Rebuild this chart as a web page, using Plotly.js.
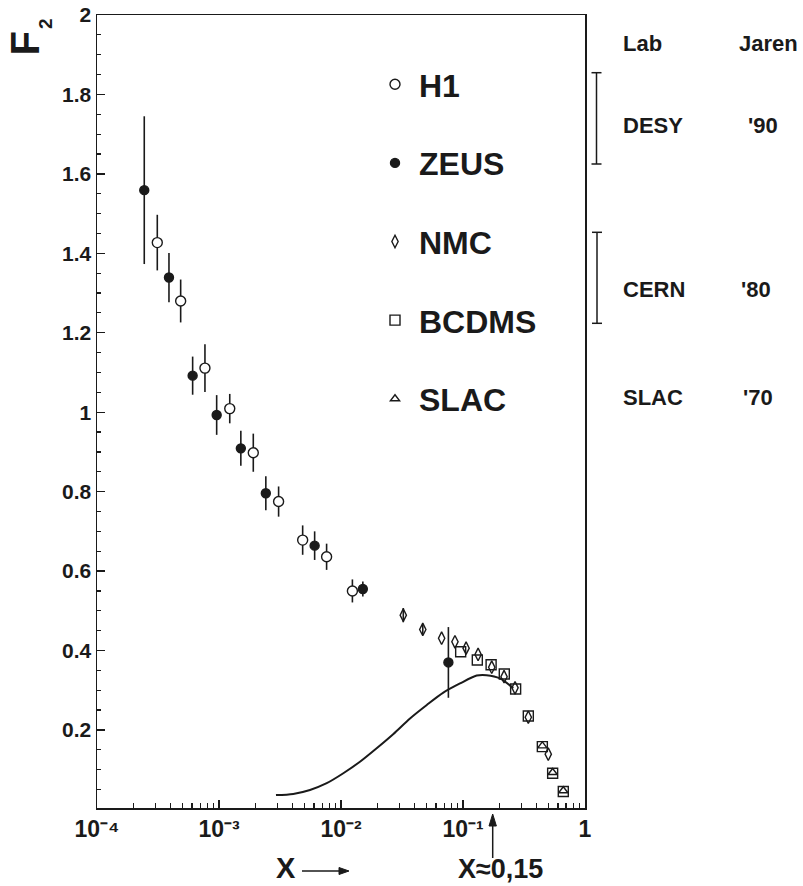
<!DOCTYPE html>
<html>
<head>
<meta charset="utf-8">
<script src="https://cdn.plot.ly/plotly-3.0.1.min.js"></script>
<style>html,body{margin:0;padding:0;background:#fff;}#chart{width:803px;height:886px;}</style>
</head>
<body>
<div id="chart"></div>
<script>
// ---- data ----
const h1X   = [3.12e-4, 4.85e-4, 7.67e-4, 1.225e-3, 1.91e-3, 3.08e-3, 4.85e-3, 7.62e-3, 1.24e-2];
const h1Y   = [1.427, 1.280, 1.111, 1.009, 0.898, 0.775, 0.678, 0.636, 0.550];
const h1Err = [0.070, 0.054, 0.060, 0.037, 0.048, 0.038, 0.037, 0.033, 0.029];

const zeusX   = [2.44e-4, 3.89e-4, 6.08e-4, 9.57e-4, 1.51e-3, 2.42e-3, 6.08e-3, 1.51e-2, 7.59e-2];
const zeusY   = [1.559, 1.339, 1.092, 0.993, 0.909, 0.796, 0.664, 0.555, 0.370];
const zeusErr = [0.186, 0.062, 0.048, 0.050, 0.044, 0.043, 0.036, 0.019, 0.089];

const nmcX   = [3.24e-2, 4.68e-2, 6.68e-2, 8.59e-2, 0.106, 0.133, 0.172, 0.217, 0.267, 0.343, 0.500];
const nmcY   = [0.489, 0.453, 0.431, 0.422, 0.406, 0.390, 0.358, 0.334, 0.306, 0.232, 0.139];
const nmcErr = [0.018, 0.014, 0, 0, 0, 0, 0, 0, 0, 0, 0];

const bcdmsX = [0.0957, 0.131, 0.170, 0.218, 0.270, 0.343, 0.447, 0.543, 0.664];
const bcdmsY = [0.397, 0.376, 0.364, 0.341, 0.303, 0.235, 0.158, 0.091, 0.045];

const slacX = [0.447, 0.543, 0.664];
const slacY = [0.160, 0.093, 0.047];

const curveX = [2.93e-3, 4.06e-3, 5.57e-3, 7.64e-3, 1.045e-2, 1.43e-2, 1.96e-2, 2.69e-2, 3.68e-2, 5.05e-2, 6.90e-2, 9.45e-2, 0.1295, 0.156, 0.201, 0.258];
const curveY = [0.036, 0.039, 0.049, 0.066, 0.091, 0.120, 0.154, 0.190, 0.229, 0.263, 0.294, 0.317, 0.337, 0.338, 0.330, 0.305];

const xTickVals = [1e-4, 1e-3, 1e-2, 1e-1, 1];
const xTickText = ['10\u207B\u2074', '10\u207B\u00B3', '10\u207B\u00B2', '10\u207B\u00B9', '1'];
const yTickVals = [0.2, 0.4, 0.6, 0.8, 1, 1.2, 1.4, 1.6, 1.8, 2];

const seriesNames = ['H1', 'ZEUS', 'NMC', 'BCDMS', 'SLAC'];
const labNames  = ['DESY', 'CERN', 'SLAC'];
const labYears  = ["'90", "'80", "'70"];

// ---- layout helpers ----
const W = 803, H = 886;
const L = 97, R = 585, T = 15, B = 808;
const px = p => (p - L) / (R - L);
const py = p => (B - p) / (B - T);
const FONT = 'Liberation Sans, Arial, sans-serif';
const INK = '#1a1a1a';

const minorX = [];
for (let e = -4; e < 0; e++) for (let m = 2; m <= 9; m++) minorX.push(m * Math.pow(10, e));

const errStyle = arr => ({type: 'data', array: arr, visible: true, width: 0, thickness: 1.6, color: INK});
const mk = (sym, size, fill) => ({symbol: sym, size: size, color: fill, line: {color: INK, width: 1.4}});

const traces = [
  {x: h1X, y: h1Y, name: seriesNames[0], mode: 'markers', legendgroup: 'a',
   error_y: errStyle(h1Err), marker: mk('circle', 10, '#fff')},
  {x: zeusX, y: zeusY, name: seriesNames[1], mode: 'markers', legendgroup: 'b',
   error_y: errStyle(zeusErr), marker: mk('circle', 9, INK)},
  {x: nmcX, y: nmcY, name: seriesNames[2], mode: 'markers', legendgroup: 'c',
   error_y: errStyle(nmcErr), marker: mk('diamond-tall-open', 9, INK)},
  {x: bcdmsX, y: bcdmsY, name: seriesNames[3], mode: 'markers', legendgroup: 'd',
   marker: mk('square-open', 10, INK)},
  {x: slacX, y: slacY, name: seriesNames[4], mode: 'markers', legendgroup: 'e',
   marker: mk('triangle-up-open', 8, INK)},
  {x: curveX, y: curveY, mode: 'lines', showlegend: false,
   line: {color: INK, width: 2, shape: 'spline', smoothing: 0.8}}
];

const annotations = [
  {text: 'F', x: px(24), y: py(43.5), textangle: -90, font: {size: 40}},
  {text: '2', x: px(46), y: py(24), textangle: -90, font: {size: 19}},
  {text: 'X', x: px(286), y: py(868), font: {size: 29}},
  {text: 'X\u22480,15', x: px(500.5), y: py(869), font: {size: 27}},
  {text: 'Lab', x: px(621), y: py(43), xanchor: 'left', font: {size: 22}},
  {text: 'Jaren', x: px(737), y: py(43), xanchor: 'left', font: {size: 22}}
];
const labRowY = [125, 289, 398];
const yearX = [746, 739, 741];
labNames.forEach((n, i) => {
  annotations.push({text: n, x: px(621), y: py(labRowY[i]), xanchor: 'left', font: {size: 22}});
  annotations.push({text: labYears[i], x: px(yearX[i]), y: py(labRowY[i]), xanchor: 'left', font: {size: 22}});
});
annotations.forEach(a => {
  a.xref = 'paper'; a.yref = 'paper'; a.showarrow = false;
  if (!a.xanchor) a.xanchor = 'center';
  a.yanchor = 'middle';
  a.font = Object.assign({family: FONT, color: INK, weight: 'bold'}, a.font);
});

const lineShape = (x0, y0, x1, y1) => ({type: 'line', xref: 'paper', yref: 'paper',
  x0: px(x0), y0: py(y0), x1: px(x1), y1: py(y1), line: {color: INK, width: 1.5}});
const bracket = (x, top, bot) => [
  lineShape(x, top, x, bot), lineShape(x - 5, top, x + 5, top), lineShape(x - 5, bot, x + 5, bot)];
const tri = pts => ({type: 'path', xref: 'paper', yref: 'paper', fillcolor: INK, line: {color: INK, width: 1},
  path: 'M' + pts.map(p => px(p[0]) + ',' + py(p[1])).join(' L') + ' Z'});

const shapes = [
  ...bracket(596.5, 72.7, 164),
  ...bracket(597, 232.3, 323.3),
  lineShape(302, 871, 341, 871),
  tri([[349, 871], [339, 867.5], [339, 874.5]]),
  lineShape(492.7, 858, 492.7, 824),
  tri([[492.7, 814], [489, 826], [496.4, 826]])
];

const axisCommon = {
  showline: true, mirror: true, linecolor: INK, linewidth: 1.5,
  ticks: 'inside', ticklen: 8, tickwidth: 1.4, tickcolor: INK,
  showgrid: false, zeroline: false
};

const layout = {
  width: W, height: H,
  margin: {l: L, r: W - R, t: T, b: H - B, pad: 0},
  paper_bgcolor: '#fff', plot_bgcolor: '#fff',
  showlegend: true,
  legend: {x: px(371), y: py(57), xanchor: 'left', yanchor: 'top',
    font: {family: FONT, size: 32, color: INK, weight: 'bold'},
    traceorder: 'grouped', tracegroupgap: 34, bgcolor: 'rgba(0,0,0,0)', itemwidth: 38},
  xaxis: Object.assign({}, axisCommon, {
    type: 'log', range: [-4, 0], tickmode: 'array', tickvals: xTickVals, ticktext: xTickText,
    tickfont: {family: FONT, size: 23, color: INK, weight: 'bold'},
    minor: {tickmode: 'array', tickvals: minorX, ticks: 'inside', ticklen: 5, tickwidth: 1.2, tickcolor: INK}
  }),
  yaxis: Object.assign({}, axisCommon, {
    range: [0.0035, 2], tickmode: 'array', tickvals: yTickVals,
    tickfont: {family: FONT, size: 21, color: INK, weight: 'bold'},
    minor: {tick0: 0, dtick: 0.05, ticks: 'inside', ticklen: 4, tickwidth: 1.2, tickcolor: INK}
  }),
  annotations: annotations,
  shapes: shapes
};

Plotly.newPlot('chart', traces, layout, {displayModeBar: false, staticPlot: true});
</script>
</body>
</html>
